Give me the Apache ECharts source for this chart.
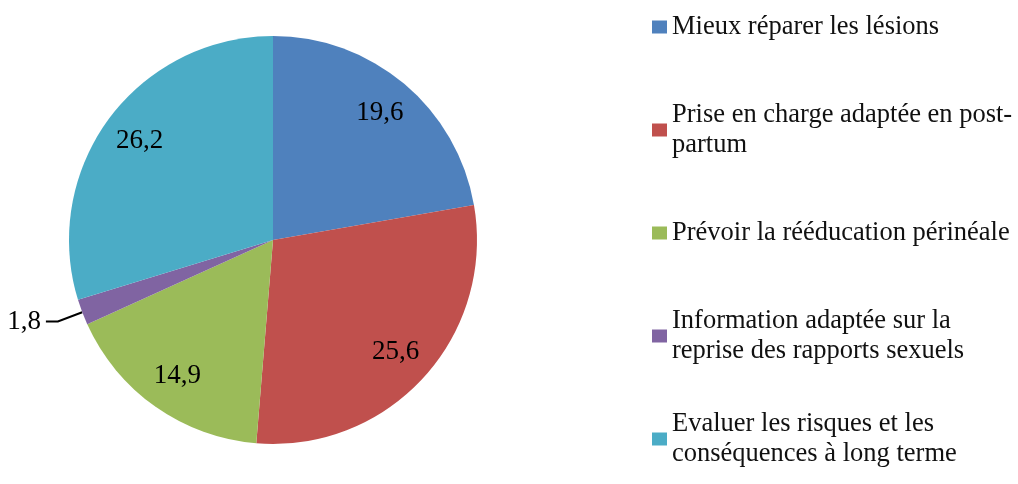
<!DOCTYPE html>
<html>
<head>
<meta charset="utf-8">
<script src="https://cdn.jsdelivr.net/npm/echarts@6/dist/echarts.min.js"></script>
<style>
    html, body { margin: 0; padding: 0; background: #fff; }
    #chart { width: 1018px; height: 484px; }
</style>
</head>
<body>
<div id="chart"></div>
<script>
// categories (legend text, line breaks as in the picture)
const categories = [
    'Mieux réparer les lésions',
    'Prise en charge adaptée en post-\npartum',
    'Prévoir la rééducation périnéale',
    'Information adaptée sur la\nreprise des rapports sexuels',
    'Evaluer les risques et les\nconséquences à long terme',
];
const values = [19.6, 25.6, 14.9, 1.8, 26.2];
const colors = ['#4F81BD', '#C0504D', '#9BBB59', '#8064A2', '#4BACC6'];
// slices whose value is written outside with a leader line
const outsideLabels = [3];

const serif = "'Liberation Serif', 'Times New Roman', serif";
const fmt = (v) => v.toFixed(1).replace('.', ',');
const LINE_H = 30;

const myChart = echarts.init(document.getElementById('chart'));

// every legend item gets the same box (3 lines tall) with its first line on the icon
const legendData = categories.map((name) => {
    const twoLines = name.indexOf('\n') >= 0;
    return {
        name,
        textStyle: {
            padding: twoLines ? [LINE_H, 0, 0, 0] : [LINE_H, 0, LINE_H, 0],
            backgroundColor: 'transparent',
        },
    };
});

const pieData = categories.map((name, i) => ({
    name,
    value: values[i],
    itemStyle: { color: colors[i] },
    label: { show: outsideLabels.includes(i) },
    labelLine: { show: outsideLabels.includes(i) },
}));

// transparent ring so that the inside labels sit at ~80% of the radius
const labelData = categories.map((name, i) => ({
    name,
    value: values[i],
    label: { show: !outsideLabels.includes(i) },
}));

const option = {
    animation: false,
    color: colors,
    legend: {
        orient: 'vertical',
        left: 652,
        top: 27 - 1.5 * LINE_H,
        height: 520,
        padding: 0,
        icon: 'rect',
        itemWidth: 15,
        itemHeight: 13,
        itemGap: 103 - 3 * LINE_H,
        selectedMode: false,
        data: legendData,
        textStyle: {
            fontFamily: serif,
            fontSize: 26.5,
            color: '#111',
            lineHeight: LINE_H,
        },
    },
    series: [
        {
            type: 'pie',
            center: [273, 240],
            radius: 204,
            startAngle: 90,
            clockwise: true,
            silent: true,
            avoidLabelOverlap: false,
            data: pieData,
            label: {
                position: 'outside',
                fontFamily: serif,
                fontSize: 27,
                color: '#000',
                distanceToLabelLine: 5,
                formatter: (p) => fmt(p.value),
            },
            labelLine: {
                length: 26,
                length2: 12,
                lineStyle: { color: '#000', width: 2 },
            },
        },
        {
            type: 'pie',
            center: [273, 240],
            radius: [122, 204],
            startAngle: 90,
            clockwise: true,
            silent: true,
            data: labelData,
            itemStyle: { color: 'rgba(0,0,0,0)' },
            label: {
                position: 'inside',
                fontFamily: serif,
                fontSize: 27,
                color: '#000',
                formatter: (p) => fmt(p.value),
            },
            labelLine: { show: false },
        },
    ],
};

myChart.setOption(option);
window.addEventListener('resize', () => myChart.resize());
</script>
</body>
</html>
